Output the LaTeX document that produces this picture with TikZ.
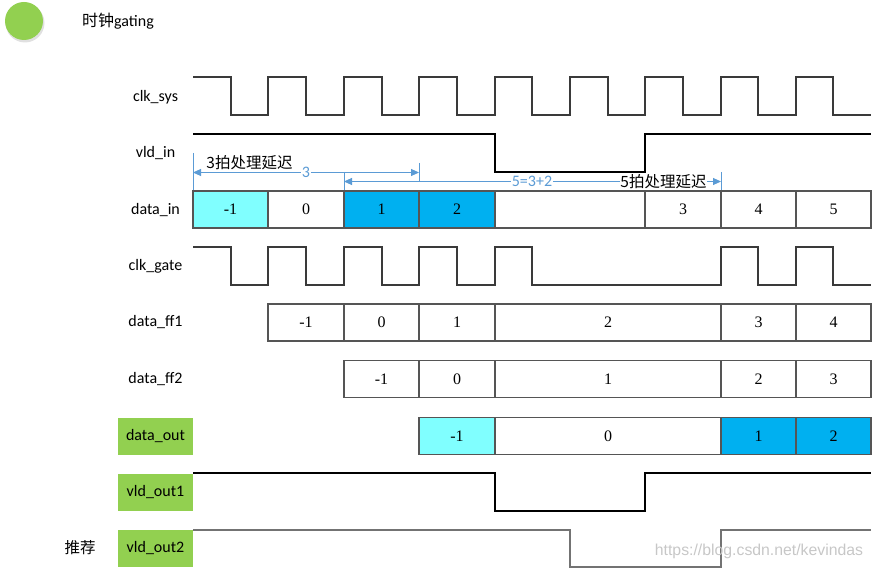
\documentclass[tikz,border=0pt]{standalone}
\usepackage{fontspec}
\setmainfont{Carlito}
\newfontfamily\cjk{Noto Sans CJK SC}
\newfontfamily\tms{Liberation Serif}
\newfontfamily\arl{Liberation Sans}
\usetikzlibrary{arrows.meta}
\definecolor{cyanc}{HTML}{80FFFF}
\definecolor{bluec}{HTML}{00B0F0}
\definecolor{greenc}{HTML}{92D050}
\definecolor{dimc}{HTML}{5B9BD5}
\definecolor{wavec}{HTML}{3A3A3A}
\definecolor{borderc}{HTML}{555555}
\newcommand\dcell[6]{%
  \node[cellbox, fill=#6, minimum width={(#3-#2)*1pt}] (#1) at ({(#2+#3)/2},#4) {#5};}
\begin{document}
\begin{tikzpicture}[x=1pt,y=-1pt,
  lbl/.style={font=\fontsize{16}{18}\selectfont, inner sep=0pt},
  glbl/.style={lbl, fill=greenc, minimum width=75pt, minimum height=37pt},
  cellbox/.style={draw=borderc, line width=1.6pt, minimum height=37pt, inner sep=0pt,
     font=\tms\fontsize{16}{18}\selectfont},
  wave/.style={draw=wavec, line width=1.3pt},
  dimline/.style={draw=dimc, line width=0.9pt},
  dimarrow/.style={dimline, {Triangle[length=8pt,width=7pt]}-{Triangle[length=8pt,width=7pt]}},
  dimtxt/.style={text=dimc, font=\fontsize{16}{18}\selectfont, fill=white, inner sep=1pt},
  cjktxt/.style={font=\cjk\fontsize{15.5}{17}\selectfont, inner sep=0pt}]
\useasboundingbox (0,0) rectangle (873,569);

% header
\fill[black!12] (25,23) circle (19.5);
\fill[greenc] (24,21) node (dot) {} circle (19);
\node[anchor=west, font=\fontsize{16}{18}\selectfont, inner sep=0pt] (title) at (82,21) {{\cjk 时钟}gating};

% row labels
\node[lbl] (Lclk) at (155.5,97) {clk\_sys};
\node[lbl] (Lvld) at (155.5,153) {vld\_in};
\node[lbl] (Ldin) at (155.5,210) {data\_in};
\node[lbl] (Lgate) at (155.5,266) {clk\_gate};
\node[lbl] (Lff1) at (155.5,322.5) {data\_ff1};
\node[lbl] (Lff2) at (155.5,379) {data\_ff2};
\node[glbl] (Lout) at (155.5,436) {data\_out};
\node[glbl] (Lvo1) at (155.5,492) {vld\_out1};
\node[glbl] (Lvo2) at (155.5,548.5) {vld\_out2};
\node[cjktxt] (rec) at (80,548) {推荐};

% clk_sys
\draw[wave] (193,77) -- (231,77) -- (231,115) -- (268,115) -- (268,77)
  -- (306,77) -- (306,115) -- (344,115) -- (344,77)
  -- (382,77) -- (382,115) -- (419,115) -- (419,77)
  -- (457,77) -- (457,115) -- (495,115) -- (495,77)
  -- (532,77) -- (532,115) -- (570,115) -- (570,77)
  -- (608,77) -- (608,115) -- (645,115) -- (645,77)
  -- (683,77) -- (683,115) -- (721,115) -- (721,77)
  -- (758,77) -- (758,115) -- (796,115) -- (796,77)
  -- (833,77) -- (833,115) -- (871,115);

% vld_in
\draw[wave, draw=black, line width=1.1pt] (193,134) -- (495,134) -- (495,172) -- (645,172) -- (645,134) -- (871,134);

% dimension annotations
\coordinate (t0a) at (193,153); \coordinate (t0b) at (193,190);
\coordinate (t1a) at (419,163); \coordinate (t1b) at (419,182);
\coordinate (t2a) at (344,172); \coordinate (t2b) at (344,190);
\coordinate (t3a) at (721,172); \coordinate (t3b) at (721,190);
\draw[dimline] (t0a) -- (t0b);
\draw[dimline] (t1a) -- (t1b);
\draw[dimline] (t2a) -- (t2b);
\draw[dimline] (t3a) -- (t3b);
\coordinate (a1l) at (193,172.5); \coordinate (a1r) at (419,172.5);
\coordinate (a2l) at (344,181.5); \coordinate (a2r) at (721,181.5);
\draw[dimarrow] (a1l) -- (a1r);
\draw[dimarrow] (a2l) -- (a2r);
\node[dimtxt] (d3) at (306,172.5) {3};
\node[dimtxt] (d5) at (532,181.5) {5=3+2};
\node[cjktxt] (n3) at (249.5,163) {3拍处理延迟};
\node[cjktxt, fill=white, inner sep=0.5pt] (n5) at (663.5,181.5) {5拍处理延迟};

% data_in
\dcell{di0}{193}{268}{209.5}{-1}{cyanc}
\dcell{di1}{268}{344}{209.5}{0}{white}
\dcell{di2}{344}{419}{209.5}{1}{bluec}
\dcell{di3}{419}{495}{209.5}{2}{bluec}
\dcell{di4}{495}{645}{209.5}{}{white}
\dcell{di5}{645}{721}{209.5}{3}{white}
\dcell{di6}{721}{796}{209.5}{4}{white}
\dcell{di7}{796}{871}{209.5}{5}{white}

% clk_gate
\draw[wave] (193,247) -- (231,247) -- (231,285) -- (268,285) -- (268,247)
  -- (306,247) -- (306,285) -- (344,285) -- (344,247)
  -- (382,247) -- (382,285) -- (419,285) -- (419,247)
  -- (457,247) -- (457,285) -- (495,285) -- (495,247)
  -- (532,247) -- (532,285) -- (721,285) -- (721,247)
  -- (758,247) -- (758,285) -- (796,285) -- (796,247)
  -- (833,247) -- (833,285) -- (871,285);

% data_ff1
\dcell{f10}{268}{344}{322.5}{-1}{white}
\dcell{f11}{344}{419}{322.5}{0}{white}
\dcell{f12}{419}{495}{322.5}{1}{white}
\dcell{f13}{495}{721}{322.5}{2}{white}
\dcell{f14}{721}{796}{322.5}{3}{white}
\dcell{f15}{796}{871}{322.5}{4}{white}

% data_ff2
\dcell{f20}{344}{419}{379}{-1}{white}
\dcell{f21}{419}{495}{379}{0}{white}
\dcell{f22}{495}{721}{379}{1}{white}
\dcell{f23}{721}{796}{379}{2}{white}
\dcell{f24}{796}{871}{379}{3}{white}

% data_out
\dcell{do0}{419}{495}{436}{-1}{cyanc}
\dcell{do1}{495}{721}{436}{0}{white}
\dcell{do2}{721}{796}{436}{1}{bluec}
\dcell{do3}{796}{871}{436}{2}{bluec}

% vld_out1
\draw[wave, draw=black, line width=1.1pt] (193,473) -- (495,473) -- (495,511) -- (645,511) -- (645,473) -- (871,473);

% vld_out2
\draw[wave, draw=black!55] (193,530) -- (570,530) -- (570,567) -- (721,567) -- (721,530) -- (871,530);

% watermark
\node[font=\arl\fontsize{15.8}{18}\selectfont, text=black!22, inner sep=0pt] (wm) at (759,551) {https://blog.csdn.net/kevindas};
\end{tikzpicture}
\end{document}
